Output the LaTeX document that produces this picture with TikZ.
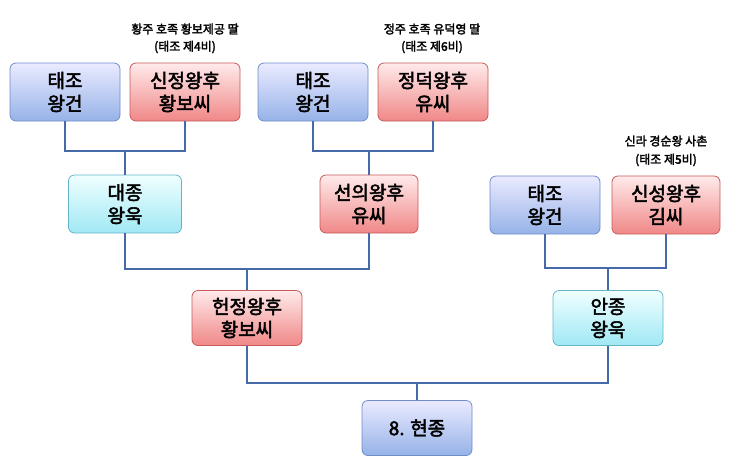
\documentclass[tikz,border=0pt]{standalone}
\usepackage{fontspec}
\newfontfamily\kr{Noto Sans CJK KR}[AutoFakeBold=2.5]
\begin{document}
\begin{tikzpicture}[x=1pt,y=-1pt,
 box/.style={rounded corners=6pt,draw,line width=0.8pt,minimum width=110pt,minimum height=58pt,align=center,font=\kr\bfseries\fontsize{19}{23}\selectfont,inner sep=2pt},
 bl/.style={box,top color=blue!8!white,bottom color={rgb,255:red,150;green,178;blue,232},draw={rgb,255:red,110;green,140;blue,200}},
 rd/.style={box,top color=red!8!white,bottom color={rgb,255:red,240;green,135;blue,135},draw={rgb,255:red,200;green,90;blue,90}},
 cy/.style={box,top color=cyan!6!white,bottom color={rgb,255:red,160;green,232;blue,244},draw={rgb,255:red,100;green,180;blue,200}},
 lbl/.style={font=\kr\bfseries\fontsize{12}{13}\selectfont},
 ln/.style={draw={rgb,255:red,70;green,105;blue,170},line width=2pt}]
\useasboundingbox (0,0) rectangle (742,475);
\node[bl] (a1) at (65,92) {태조\\왕건};
\node[rd] (a2) at (185,92) {신정왕후\\황보씨};
\node[bl] (a3) at (313,92) {태조\\왕건};
\node[rd] (a4) at (433,92) {정덕왕후\\유씨};
\node[lbl] (l1) at (185,29) {황주 호족 황보제공 딸};
\node[lbl] (l1b) at (185,47) {(태조 제4비)};
\node[lbl] (l2) at (432,29) {정주 호족 유덕영 딸};
\node[lbl] (l2b) at (432,47) {(태조 제6비)};
\node[cy,minimum width=113pt] (b1) at (125,204) {대종\\왕욱};
\node[rd,minimum width=98pt] (b2) at (369,204) {선의왕후\\유씨};
\node[bl] (b3) at (545,205) {태조\\왕건};
\node[rd,minimum width=108pt] (b4) at (666,205) {신성왕후\\김씨};
\node[lbl] (l3) at (666,141) {신라 경순왕 사촌};
\node[lbl] (l3b) at (666,160) {(태조 제5비)};
\node[rd,minimum height=55pt] (c1) at (247,318) {헌정왕후\\황보씨};
\node[cy,minimum height=55pt] (c2) at (608,318) {안종\\왕욱};
\node[bl,minimum height=55pt] (d) at (417,428) {8. 현종};
\draw[ln] (a1.south) -- ++(0,30) -| (a2.south);
\draw[ln] (b1.north) -- ++(0,-23);
\draw[ln] (a3.south) -- ++(0,30) -| (a4.south);
\draw[ln] (b2.north) -- ++(0,-23);
\draw[ln] (b1.south) -- ++(0,36) -| (b2.south);
\draw[ln] (c1.north) -- ++(0,-22);
\draw[ln] (b3.south) -- ++(0,34) -| (b4.south);
\draw[ln] (c2.north) -- ++(0,-22);
\draw[ln] (c1.south) -- ++(0,37) -| (c2.south);
\draw[ln] (d.north) -- ++(0,-18);
\end{tikzpicture}
\end{document}
